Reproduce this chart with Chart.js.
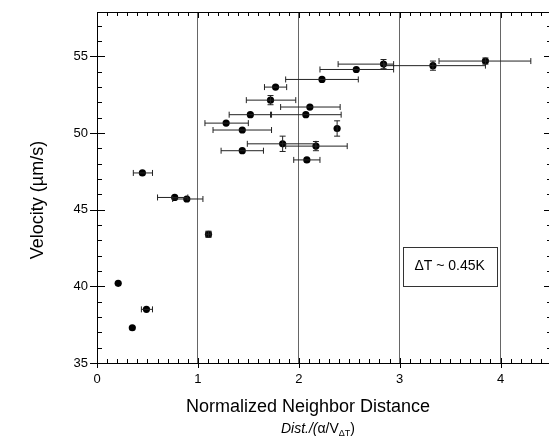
<!DOCTYPE html>
<html>
<head>
<meta charset="utf-8">
<script src="https://cdn.jsdelivr.net/npm/chart.js@4.4.1/dist/chart.umd.min.js"></script>
<style>
  html, body { margin: 0; padding: 0; background: #fff; overflow: hidden; }
  #wrap { width: 551px; height: 440px; }
</style>
</head>
<body>
<div id="wrap"><canvas id="chart"></canvas></div>
<script>
// normalized neighbor distance and velocity
const dist     = [3.85, 3.33, 2.84, 2.57, 2.23, 1.77, 1.72, 2.11, 1.52, 2.07, 1.28, 1.44,
                  2.38, 1.84, 2.17, 1.44, 2.08, 0.45, 0.77, 0.89, 1.105, 0.21, 0.49, 0.35];
const velocity = [54.7, 54.4, 54.5, 54.15, 53.5, 53.0, 52.15, 51.7, 51.2, 51.2, 50.65, 50.2,
                  50.3, 49.3, 49.15, 48.85, 48.25, 47.4, 45.8, 45.7, 43.4, 40.2, 38.5, 37.3];
// horizontal error bar ends (null = none)
const distLow  = [3.39, 2.85, 2.39, 2.21, 1.87, 1.66, 1.48, 1.82, 1.31, 1.72, 1.07, 1.15,
                  null, 1.49, 1.87, 1.23, 1.95, 0.36, 0.60, 0.75, 1.08, null, 0.44, null];
const distHigh = [4.30, 3.85, 2.94, 2.94, 2.59, 1.88, 1.97, 2.41, 1.73, 2.42, 1.50, 1.73,
                  null, 2.17, 2.48, 1.65, 2.21, 0.55, 0.90, 1.05, 1.13, null, 0.55, null];
// vertical error (+/-)
const velErr   = [0.2, 0.3, 0.3, 0, 0, 0, 0.3, 0, 0, 0, 0, 0,
                  0.5, 0.5, 0.3, 0, 0, 0, 0, 0, 0.2, 0, 0, 0];
const xTicks = [0, 1, 2, 3, 4];
const yTicks = [35, 40, 45, 50, 55];
const note = 'ΔT ~ 0.45K';

const FONT = '"Liberation Sans", Arial, sans-serif';

const framePlugin = {
    id: 'frame',
    afterDatasetsDraw(chart) {
        const ctx = chart.ctx;
        const x = chart.scales.x, y = chart.scales.y;
        ctx.save();
        ctx.strokeStyle = '#222';
        ctx.lineWidth = 1;
        dist.forEach((d, i) => {
            const px = x.getPixelForValue(d);
            const py = y.getPixelForValue(velocity[i]);
            if (distLow[i] !== null) {
                const l = x.getPixelForValue(distLow[i]);
                const r = x.getPixelForValue(distHigh[i]);
                ctx.beginPath();
                ctx.moveTo(l, py); ctx.lineTo(r, py);
                ctx.moveTo(l, py - 3); ctx.lineTo(l, py + 3);
                ctx.moveTo(r, py - 3); ctx.lineTo(r, py + 3);
                ctx.stroke();
            }
            if (velErr[i] > 0) {
                const t = y.getPixelForValue(velocity[i] + velErr[i]);
                const b = y.getPixelForValue(velocity[i] - velErr[i]);
                ctx.beginPath();
                ctx.moveTo(px, t); ctx.lineTo(px, b);
                ctx.moveTo(px - 3, t); ctx.lineTo(px + 3, t);
                ctx.moveTo(px - 3, b); ctx.lineTo(px + 3, b);
                ctx.stroke();
            }
        });
        ctx.restore();
    },
    afterDraw(chart) {
        const ctx = chart.ctx;
        const a = chart.chartArea;
        const x = chart.scales.x, y = chart.scales.y;
        ctx.save();
        ctx.strokeStyle = '#000';
        ctx.lineWidth = 1;
        ctx.beginPath();
        // top and right frame
        ctx.moveTo(a.left, a.top + 0.5); ctx.lineTo(a.right, a.top + 0.5);
        ctx.moveTo(a.right - 0.5, a.top); ctx.lineTo(a.right - 0.5, a.bottom);
        // x minor / major ticks
        for (let k = 0; k <= 45; k++) {
            const v = k / 10;
            const px = Math.round(x.getPixelForValue(v)) + 0.5;
            const major = k % 10 === 0;
            ctx.moveTo(px, a.bottom + (major ? 5 : 0));
            ctx.lineTo(px, a.bottom - (major ? 5 : 4));
            ctx.moveTo(px, a.top);
            ctx.lineTo(px, a.top + (major ? 6 : 4));
        }
        // y minor / major ticks
        for (let v = 35; v <= 57; v++) {
            const py = Math.round(y.getPixelForValue(v)) + 0.5;
            const major = v % 5 === 0;
            ctx.moveTo(a.left - (major ? 7 : 0), py);
            ctx.lineTo(a.left + (major ? 8 : 5), py);
            ctx.moveTo(a.right, py);
            ctx.lineTo(a.right - (major ? 7 : 4), py);
        }
        ctx.stroke();

        // annotation box
        const bx = x.getPixelForValue(3.03), bx2 = x.getPixelForValue(3.96);
        const by = y.getPixelForValue(42.6), by2 = y.getPixelForValue(40.05);
        ctx.strokeStyle = '#333';
        ctx.strokeRect(Math.round(bx) + 0.5, Math.round(by) + 0.5, Math.round(bx2 - bx), Math.round(by2 - by));
        ctx.fillStyle = '#000';
        ctx.font = '14px ' + FONT;
        ctx.textAlign = 'center';
        ctx.textBaseline = 'middle';
        ctx.fillText(note, (bx + bx2) / 2, (by + by2) / 2);

        // axis titles
        ctx.font = '18px ' + FONT;
        ctx.textBaseline = 'alphabetic';
        ctx.fillText('Normalized Neighbor Distance', 308, 412);
        ctx.save();
        ctx.translate(43, 200);
        ctx.rotate(-Math.PI / 2);
        ctx.fillText('Velocity (\u00b5m/s)', 0, 0);
        ctx.restore();

        // subtitle Dist./(α/V_ΔT)
        const p1 = 'Dist./(';
        ctx.font = 'italic 14px ' + FONT; const w1 = ctx.measureText(p1).width;
        ctx.font = '14px ' + FONT; const w2 = ctx.measureText('\u03b1/V').width;
        ctx.font = '9px ' + FONT; const w3 = ctx.measureText('\u0394T').width;
        ctx.font = '14px ' + FONT; const w4 = ctx.measureText(')').width;
        let sx = 318 - (w1 + w2 + w3 + w4) / 2;
        ctx.textAlign = 'left';
        ctx.font = 'italic 14px ' + FONT; ctx.fillText(p1, sx, 433); sx += w1;
        ctx.font = '14px ' + FONT; ctx.fillText('\u03b1/V', sx, 433); sx += w2;
        ctx.font = '9px ' + FONT; ctx.fillText('\u0394T', sx, 436); sx += w3;
        ctx.font = '14px ' + FONT; ctx.fillText(')', sx, 433);
        ctx.restore();
    }
};

new Chart(document.getElementById('chart'), {
    type: 'scatter',
    data: {
        datasets: [{
            data: dist.map((d, i) => ({ x: d, y: velocity[i] })),
            backgroundColor: '#000',
            borderWidth: 0,
            pointRadius: 3.6,
            pointHoverRadius: 3.6
        }]
    },
    options: {
        responsive: true,
        maintainAspectRatio: false,
        animation: false,
        layout: { autoPadding: false, padding: { top: 12, right: 0, left: 0, bottom: 0 } },
        plugins: { legend: { display: false }, tooltip: { enabled: false } },
        scales: {
            x: {
                type: 'linear',
                min: 0,
                max: 4.5,
                afterFit: (s) => { s.height = 77; s.paddingLeft = 0; s.paddingRight = 0; },
                afterBuildTicks: (s) => { s.ticks = xTicks.map(v => ({ value: v })); },
                ticks: {
                    padding: 9,
                    color: '#000',
                    font: { family: FONT, size: 13 }
                },
                grid: {
                    drawTicks: false,
                    color: (c) => c.tick && c.tick.value === 0 ? 'rgba(0,0,0,0)' : '#666',
                    lineWidth: 1
                },
                border: { display: true, color: '#000', width: 1 }
            },
            y: {
                type: 'linear',
                min: 35,
                max: 57.9,
                afterFit: (s) => { s.width = 97; s.paddingTop = 0; s.paddingBottom = 0; },
                afterBuildTicks: (s) => { s.ticks = yTicks.map(v => ({ value: v })); },
                ticks: {
                    padding: 9,
                    color: '#000',
                    font: { family: FONT, size: 13 }
                },
                grid: { display: false, drawTicks: false },
                border: { display: true, color: '#000', width: 1 }
            }
        }
    },
    plugins: [framePlugin]
});
</script>
</body>
</html>
